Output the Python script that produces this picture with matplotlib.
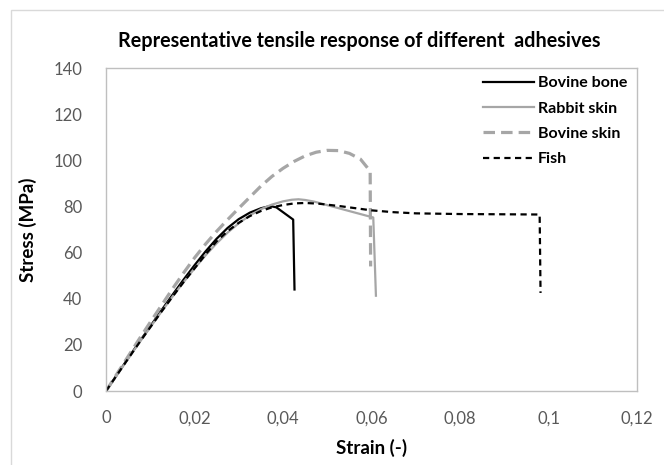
import matplotlib
matplotlib.use("Agg")
import matplotlib.pyplot as plt
from matplotlib.patches import Rectangle

plt.rcParams['font.family'] = ['Lato', 'DejaVu Sans']

# ---- data ----
bone_strain = [0, 0.0025, 0.005, 0.0075, 0.010, 0.0125, 0.015, 0.0175, 0.020, 0.0225, 0.025,
               0.0275, 0.030, 0.0325, 0.035, 0.0365, 0.0375, 0.0385, 0.0423, 0.0426]
bone_stress = [0, 7.1, 14.2, 21.2, 28, 34.9, 41.6, 48.2, 54.5, 60.5, 66,
               70.7, 74.5, 77.3, 79.2, 79.9, 80, 79.6, 74.3, 44]

rabbit_strain = [0, 0.0025, 0.005, 0.0075, 0.010, 0.0125, 0.015, 0.0175, 0.020, 0.0225, 0.025,
                 0.0275, 0.030, 0.0325, 0.035, 0.0375, 0.040, 0.042, 0.0435, 0.045, 0.047, 0.0604, 0.061]
rabbit_stress = [0, 7, 14, 20.9, 27.6, 34.3, 40.8, 47.1, 53.1, 58.8, 64,
                 68.7, 72.7, 76.1, 78.8, 80.8, 82.2, 82.9, 83.1, 82.8, 82.1, 75.2, 41.3]

bskin_strain = [0, 0.0025, 0.005, 0.0075, 0.010, 0.0125, 0.015, 0.0175, 0.020, 0.0225, 0.025,
                0.0275, 0.030, 0.0325, 0.035, 0.0375, 0.040, 0.0425, 0.045, 0.0475, 0.050,
                0.0525, 0.055, 0.0575, 0.0597, 0.0598]
bskin_stress = [0, 7.5, 15, 22.5, 29.8, 37, 44.2, 51.1, 57.7, 63.7, 69.2,
                74.3, 79.2, 84, 88.8, 93, 96.5, 99.5, 101.9, 103.5, 104.3,
                104.2, 103, 100.5, 95.3, 54]

fish_strain = [0, 0.0025, 0.005, 0.0075, 0.010, 0.0125, 0.015, 0.0175, 0.020, 0.0225, 0.025,
               0.0275, 0.030, 0.0325, 0.035, 0.0375, 0.040, 0.0425, 0.045, 0.048, 0.053,
               0.060, 0.065, 0.070, 0.080, 0.098, 0.0982]
fish_stress = [0, 7, 14, 20.9, 27.6, 34.3, 40.8, 47.1, 53.1, 59.2, 64.9,
               69.3, 72.9, 75.8, 78, 79.6, 80.6, 81.3, 81.5, 81.2, 80.1,
               78.3, 77.5, 77, 76.7, 76.5, 42.5]

series_names = ['Bovine bone', 'Rabbit skin', 'Bovine skin', 'Fish']

x_ticks = [0, 0.02, 0.04, 0.06, 0.08, 0.10, 0.12]
x_ticklabels = ['0', '0,02', '0,04', '0,06', '0,08', '0,1', '0,12']
y_ticks = [0, 20, 40, 60, 80, 100, 120, 140]

title = 'Representative tensile response of different  adhesives'
xlabel = 'Strain (-)'
ylabel = 'Stress (MPa)'

# ---- figure ----
W, H = 664, 465
fig = plt.figure(figsize=(W / 100, H / 100), dpi=100)
fig.patches.append(Rectangle((11 / W, -0.1), 1.2, 1 - 10 / H + 0.1, transform=fig.transFigure,
                             fill=False, edgecolor='#d9d9d9', linewidth=1.0))

ax = fig.add_axes([106 / W, 1 - 391 / H, (637 - 106) / W, (391 - 68) / H])

ax.plot(bone_strain, bone_stress, color='black', lw=1.6, label=series_names[0])
ax.plot(rabbit_strain, rabbit_stress, color='#a6a6a6', lw=1.6, label=series_names[1])
ax.plot(bskin_strain, bskin_stress, color='#a6a6a6', lw=2.3, dashes=(3.6, 1.9), label=series_names[2])
ax.plot(fish_strain, fish_stress, color='black', lw=1.6, dashes=(2.8, 2.0), label=series_names[3])

ax.set_xlim(0, 0.12)
ax.set_ylim(0, 140)
ax.set_xticks(x_ticks)
ax.set_xticklabels(x_ticklabels)
ax.set_yticks(y_ticks)
ax.tick_params(length=0, labelsize=12, labelcolor='#595959')
ax.tick_params(axis='y', pad=17)
ax.tick_params(axis='x', pad=14)
for s in ax.spines.values():
    s.set_color('#bfbfbf')
    s.set_linewidth(1.0)

ax.set_xlabel(xlabel, fontsize=13.5, fontweight='bold', labelpad=9)
ax.set_ylabel(ylabel, fontsize=13.5, fontweight='bold', labelpad=12)
fig.text(359 / W, 1 - 41 / H, title, fontsize=14.2, fontweight='bold', ha='center', va='center')

leg = ax.legend(loc='upper right', bbox_to_anchor=(1.0, 1.005), frameon=False,
                prop={'weight': 'bold', 'size': 11.5}, handlelength=3.2, handletextpad=0.25,
                labelspacing=0.7, borderaxespad=0.2)

fig.savefig('out.png', dpi=100)
